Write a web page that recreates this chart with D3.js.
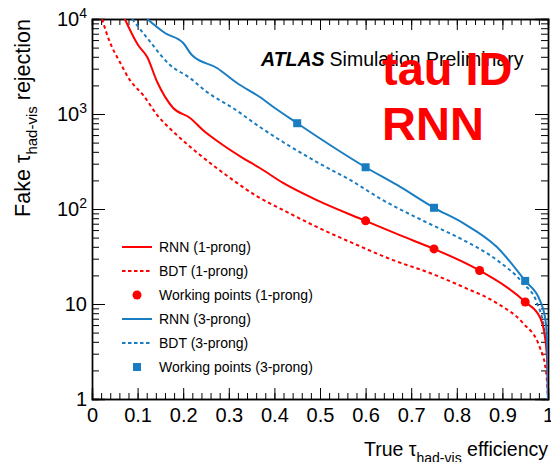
<!DOCTYPE html>
<html>
<head>
<meta charset="utf-8">
<script src="https://cdn.jsdelivr.net/npm/d3@7"></script>
<style>
  body { margin: 0; background: #fff; }
  text { font-family: "Liberation Sans", Arial, sans-serif; }
</style>
</head>
<body>
<svg></svg>
<script>
// curves as [true efficiency, fake rejection]
const rnn1 = [
  [0.072, 10000], [0.101, 5320], [0.121, 3980], [0.143, 2170], [0.178, 1157],
  [0.215, 908], [0.243, 678], [0.287, 472], [0.331, 344], [0.368, 270],
  [0.419, 188], [0.493, 124], [0.6, 75], [0.675, 53], [0.75, 38],
  [0.85, 22.5], [0.95, 10.5], [0.982, 7.3], [0.993, 4.6], [0.998, 2.6], [1.0, 1]
];
const bdt1 = [
  [0.022, 10000], [0.039, 5730], [0.061, 3530], [0.083, 2280], [0.112, 1585],
  [0.143, 976], [0.186, 601], [0.237, 370], [0.303, 212], [0.364, 134],
  [0.419, 97.6], [0.493, 64.7], [0.566, 45], [0.66, 29], [0.741, 21.2],
  [0.814, 15.1], [0.888, 10.2], [0.945, 6.3], [0.982, 3.5], [0.996, 1.9], [1.0, 1]
];
const rnn3 = [
  [0.121, 10000], [0.16, 7120], [0.2, 5590], [0.219, 4180], [0.274, 3050],
  [0.318, 2120], [0.368, 1510], [0.401, 1157], [0.45, 800], [0.522, 472],
  [0.6, 275], [0.669, 179], [0.75, 103], [0.814, 71], [0.888, 39.8],
  [0.95, 17.5], [0.982, 11], [0.995, 6.5], [0.999, 3], [1.0, 1]
];
const bdt3 = [
  [0.088, 10000], [0.121, 6310], [0.171, 3280], [0.215, 2390], [0.252, 1705],
  [0.309, 1157], [0.368, 730], [0.419, 507], [0.493, 312], [0.566, 202],
  [0.638, 124], [0.741, 69.5], [0.814, 47.2], [0.888, 29], [0.945, 16.6],
  [0.976, 10.2], [0.993, 4.95], [0.999, 2.2], [1.0, 1]
];
const wp1 = [[0.6, 75], [0.75, 38], [0.85, 22.5], [0.95, 10.5]];
const wp3 = [[0.45, 800], [0.6, 275], [0.75, 103], [0.95, 17.5]];

const xTicks = d3.range(0, 1.0001, 0.1).map(d => +d.toFixed(1));
const xMinor = d3.range(0, 1.0001, 0.02).map(d => +d.toFixed(2));
const yTicks = [1, 10, 100, 1000, 10000];
const yMinor = d3.range(0, 4).flatMap(e => d3.range(2, 10).map(m => m * 10 ** e));

const red = "#ff0000";
const blue = "#1a7dc2";

const legendItems = [
  { label: "RNN (1-prong)", color: red, type: "solid" },
  { label: "BDT (1-prong)", color: red, type: "dash" },
  { label: "Working points (1-prong)", color: red, type: "circle" },
  { label: "RNN (3-prong)", color: blue, type: "solid" },
  { label: "BDT (3-prong)", color: blue, type: "dash" },
  { label: "Working points (3-prong)", color: blue, type: "square" }
];

const W = 551, H = 462;
const frame = { left: 92, right: 548, top: 19, bottom: 399 };
const font = "Liberation Sans, Arial, sans-serif";

const svg = d3.select("svg").attr("width", W).attr("height", H);

const x = d3.scaleLinear().domain([0, 1]).range([frame.left, frame.right]);
const y = d3.scaleLog().domain([1, 10000]).range([frame.bottom, frame.top]);

svg.append("clipPath").attr("id", "clip")
  .append("rect").attr("x", frame.left).attr("y", frame.top)
  .attr("width", frame.right - frame.left).attr("height", frame.bottom - frame.top);

// axes: minor ticks first, then major ones with labels
const axisG = svg.append("g");

const styleAxis = g => {
  g.select(".domain").attr("stroke", "#000").attr("stroke-width", 1.4);
  g.selectAll(".tick line").attr("stroke", "#000").attr("stroke-width", 1);
};

axisG.append("g").attr("transform", `translate(0,${frame.bottom})`)
  .call(d3.axisBottom(x).tickValues(xMinor).tickSize(-6).tickFormat(""))
  .call(styleAxis);
axisG.append("g").attr("transform", `translate(0,${frame.bottom})`)
  .call(d3.axisBottom(x).tickValues(xTicks).tickSize(-11).tickPadding(9)
    .tickFormat(d => (d === 0 || d === 1 ? d3.format("d")(d) : d3.format(".1f")(d))))
  .call(styleAxis)
  .call(g => g.selectAll("text").attr("fill", "#000")
    .style("font-size", "20px").style("font-family", font));
axisG.append("g").attr("transform", `translate(0,${frame.top})`)
  .call(d3.axisTop(x).tickValues(xMinor).tickSize(-6).tickFormat(""))
  .call(styleAxis);
axisG.append("g").attr("transform", `translate(0,${frame.top})`)
  .call(d3.axisTop(x).tickValues(xTicks).tickSize(-11).tickFormat(""))
  .call(styleAxis);

axisG.append("g").attr("transform", `translate(${frame.left},0)`)
  .call(d3.axisLeft(y).tickValues(yMinor).tickSize(-7).tickFormat(""))
  .call(styleAxis);
axisG.append("g").attr("transform", `translate(${frame.left},0)`)
  .call(d3.axisLeft(y).tickValues(yTicks).tickSize(-13).tickPadding(5).tickFormat(""))
  .call(styleAxis)
  .call(g => g.selectAll(".tick text").each(function (d) {
    const t = d3.select(this).attr("fill", "#000")
      .style("font-size", "20px").style("font-family", font);
    if (d < 100) { t.text(d); return; }
    t.append("tspan").text("10");
    t.append("tspan").attr("dy", "-8").style("font-size", "14px").text(Math.log10(d));
  }));
axisG.append("g").attr("transform", `translate(${frame.right},0)`)
  .call(d3.axisRight(y).tickValues(yMinor).tickSize(-7).tickFormat(""))
  .call(styleAxis);
axisG.append("g").attr("transform", `translate(${frame.right},0)`)
  .call(d3.axisRight(y).tickValues(yTicks).tickSize(-13).tickFormat(""))
  .call(styleAxis);

// curves
const line = d3.line()
  .x(d => x(d[0]))
  .y(d => y(d[1]))
  .curve(d3.curveMonotoneX);

const curves = [
  { data: bdt1, color: red, dash: "3.5,3" },
  { data: bdt3, color: blue, dash: "3.5,3" },
  { data: rnn1, color: red, dash: null },
  { data: rnn3, color: blue, dash: null }
];

svg.append("g").attr("clip-path", "url(#clip)")
  .selectAll("path")
  .data(curves)
  .join("path")
  .attr("d", d => line(d.data))
  .attr("fill", "none")
  .attr("stroke", d => d.color)
  .attr("stroke-width", 2)
  .attr("stroke-dasharray", d => d.dash);

svg.append("g").selectAll("circle")
  .data(wp1)
  .join("circle")
  .attr("cx", d => x(d[0]))
  .attr("cy", d => y(d[1]))
  .attr("r", 4.5)
  .attr("fill", red);

svg.append("g").selectAll("rect")
  .data(wp3)
  .join("rect")
  .attr("x", d => x(d[0]) - 4)
  .attr("y", d => y(d[1]) - 4)
  .attr("width", 8)
  .attr("height", 8)
  .attr("fill", blue);

// legend
const legend = svg.append("g").attr("transform", "translate(122,247)");
const rows = legend.selectAll("g")
  .data(legendItems)
  .join("g")
  .attr("transform", (d, i) => `translate(0,${i * 24})`);

rows.filter(d => d.type === "solid" || d.type === "dash")
  .append("line")
  .attr("x1", 0).attr("x2", 30)
  .attr("stroke", d => d.color)
  .attr("stroke-width", 2)
  .attr("stroke-dasharray", d => (d.type === "dash" ? "3.5,2.5" : null));
rows.filter(d => d.type === "circle")
  .append("circle").attr("cx", 15).attr("r", 4.5).attr("fill", d => d.color);
rows.filter(d => d.type === "square")
  .append("rect").attr("x", 11).attr("y", -4).attr("width", 8).attr("height", 8)
  .attr("fill", d => d.color);
rows.append("text")
  .attr("x", 37).attr("y", 5)
  .style("font-size", "14px")
  .attr("fill", "#000")
  .text(d => d.label);

// axis titles
const yTitle = svg.append("text")
  .attr("transform", `translate(30,${frame.top}) rotate(-90)`)
  .attr("text-anchor", "end")
  .style("font-size", "21.5px")
  .attr("fill", "#000");
yTitle.append("tspan").text("Fake τ");
yTitle.append("tspan").attr("dy", 7).style("font-size", "15px").text("had-vis");
yTitle.append("tspan").attr("dy", -7).text(" rejection");

const xTitle = svg.append("text")
  .attr("x", frame.right).attr("y", 456)
  .attr("text-anchor", "end")
  .style("font-size", "19.5px")
  .attr("fill", "#000");
xTitle.append("tspan").text("True τ");
xTitle.append("tspan").attr("dy", 7).style("font-size", "14px").text("had-vis");
xTitle.append("tspan").attr("dy", -7).text(" efficiency");

// labels
const atlas = svg.append("text")
  .attr("x", 261).attr("y", 66)
  .style("font-size", "19.5px")
  .attr("fill", "#000");
atlas.append("tspan").style("font-weight", "bold").style("font-style", "italic").text("ATLAS");
atlas.append("tspan").attr("dx", 5).text("Simulation Preliminary");

svg.append("text")
  .attr("x", 382).attr("y", 85)
  .style("font-size", "47px").style("font-weight", "bold")
  .attr("fill", red)
  .text("tau ID");
svg.append("text")
  .attr("x", 382).attr("y", 140)
  .style("font-size", "47px").style("font-weight", "bold")
  .attr("fill", red)
  .text("RNN");
</script>
</body>
</html>
